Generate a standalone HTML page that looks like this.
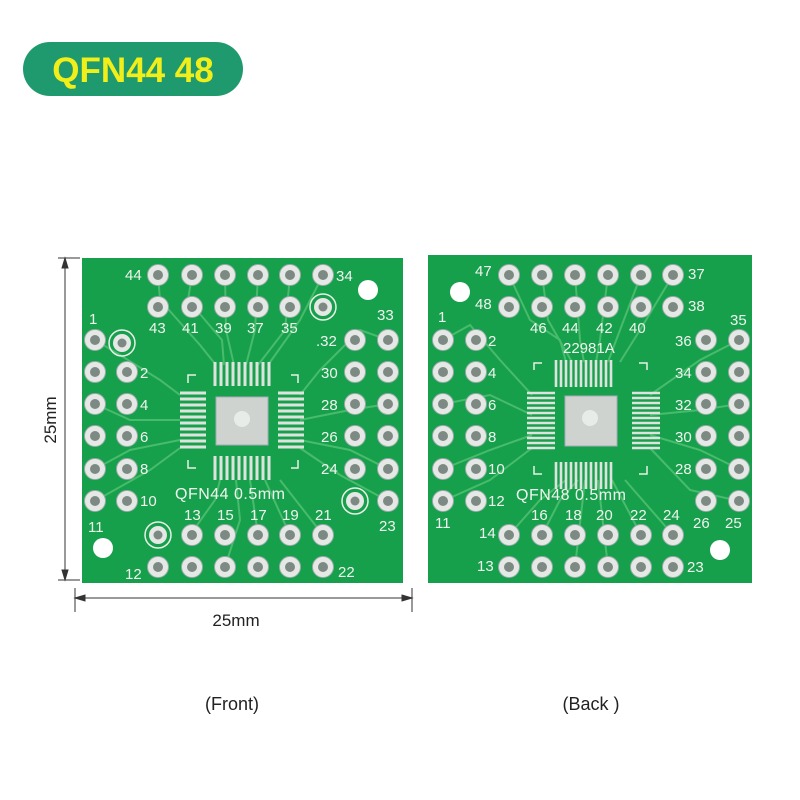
<!DOCTYPE html>
<html><head><meta charset="utf-8"><style>
body{margin:0;background:#fff;}
svg{display:block;}
text{font-family:"Liberation Sans",sans-serif;}
</style></head><body>
<svg width="800" height="800" viewBox="0 0 800 800" xmlns="http://www.w3.org/2000/svg">
<defs>
<g id="pad"><circle r="10.5" fill="#e6e8e6" stroke="#9aa" stroke-width="1"/><circle r="5" fill="#7d8a84"/></g>
<g id="rpad"><circle r="13" fill="none" stroke="#e8f0e8" stroke-width="1.5"/><circle r="9" fill="#e6e8e6"/><circle r="4.5" fill="#7d8a84"/></g>
</defs>
<rect x="23" y="42" width="220" height="54" rx="27" fill="#1f9a6e"/>
<text x="133" y="82" text-anchor="middle" font-size="35" font-weight="bold" fill="#f2ee1a">QFN44 48</text>

<g stroke="#333" stroke-width="1" fill="#333">
<line x1="65" y1="258" x2="65" y2="580"/>
<line x1="58" y1="258" x2="80" y2="258"/><line x1="58" y1="580" x2="80" y2="580"/>
<polygon points="65,258 62,268 68,268"/><polygon points="65,580 62,570 68,570"/>
<line x1="75" y1="598" x2="412" y2="598"/>
<line x1="75" y1="588" x2="75" y2="612"/><line x1="412" y1="588" x2="412" y2="612"/>
<polygon points="75,598 85,595 85,601"/><polygon points="412,598 402,595 402,601"/>
</g>
<text x="56" y="420" font-size="17" fill="#222" text-anchor="middle" transform="rotate(-90 56 420)">25mm</text>
<text x="236" y="626" font-size="17" fill="#222" text-anchor="middle">25mm</text>
<text x="232" y="710" font-size="18" fill="#222" text-anchor="middle">(Front)</text>
<text x="591" y="710" font-size="18" fill="#222" text-anchor="middle">(Back )</text>

<!-- FRONT -->
<rect x="82" y="258" width="321" height="325" fill="#17a04b"/>
<g stroke="#48bb6c" stroke-width="2" fill="none">
<path d="M158,275 L160,300 L200,345 L216,365"/><path d="M192,275 L188,300 L222,340 L224,365"/>
<path d="M225,275 L226,330 L234,365"/><path d="M258,275 L255,330 L246,365"/>
<path d="M290,275 L285,330 L258,365"/><path d="M323,275 L300,320 L268,365"/>
<path d="M95,340 L120,355 L160,380 L180,395"/><path d="M95,404 L130,420 L180,420"/>
<path d="M95,469 L130,450 L180,440"/><path d="M95,501 L150,470 L180,448"/>
<path d="M388,340 L360,330 L320,370 L300,395"/><path d="M388,404 L350,410 L300,420"/>
<path d="M388,469 L350,450 L300,440"/><path d="M388,501 L340,475 L300,448"/>
<path d="M190,535 L215,500 L220,480"/><path d="M225,567 L240,520 L236,480"/>
<path d="M258,535 L250,480"/><path d="M290,535 L265,480"/><path d="M323,535 L280,480"/>
</g>
<circle cx="368" cy="290" r="10" fill="#fff"/>
<circle cx="103" cy="548" r="10" fill="#fff"/>
<g>
<use href="#pad" x="158" y="275"/><use href="#pad" x="192" y="275"/><use href="#pad" x="225" y="275"/><use href="#pad" x="258" y="275"/><use href="#pad" x="290" y="275"/><use href="#pad" x="323" y="275"/>
<use href="#pad" x="158" y="307"/><use href="#pad" x="192" y="307"/><use href="#pad" x="225" y="307"/><use href="#pad" x="258" y="307"/><use href="#pad" x="290" y="307"/><use href="#rpad" x="323" y="307"/>
<use href="#pad" x="95" y="340"/><use href="#pad" x="95" y="372"/><use href="#pad" x="95" y="404"/><use href="#pad" x="95" y="436"/><use href="#pad" x="95" y="469"/><use href="#pad" x="95" y="501"/>
<use href="#rpad" x="122" y="343"/><use href="#pad" x="127" y="372"/><use href="#pad" x="127" y="404"/><use href="#pad" x="127" y="436"/><use href="#pad" x="127" y="469"/><use href="#pad" x="127" y="501"/>
<use href="#pad" x="355" y="340"/><use href="#pad" x="355" y="372"/><use href="#pad" x="355" y="404"/><use href="#pad" x="355" y="436"/><use href="#pad" x="355" y="469"/><use href="#rpad" x="355" y="501"/>
<use href="#pad" x="388" y="340"/><use href="#pad" x="388" y="372"/><use href="#pad" x="388" y="404"/><use href="#pad" x="388" y="436"/><use href="#pad" x="388" y="469"/><use href="#pad" x="388" y="501"/>
<use href="#rpad" x="158" y="535"/><use href="#pad" x="192" y="535"/><use href="#pad" x="225" y="535"/><use href="#pad" x="258" y="535"/><use href="#pad" x="290" y="535"/><use href="#pad" x="323" y="535"/>
<use href="#pad" x="158" y="567"/><use href="#pad" x="192" y="567"/><use href="#pad" x="225" y="567"/><use href="#pad" x="258" y="567"/><use href="#pad" x="290" y="567"/><use href="#pad" x="323" y="567"/>
</g>
<g stroke="#dfe3df" stroke-width="3">
<path d="M215,362v24M221,362v24M227,362v24M233,362v24M239,362v24M245,362v24M251,362v24M257,362v24M263,362v24M269,362v24"/>
<path d="M215,456v24M221,456v24M227,456v24M233,456v24M239,456v24M245,456v24M251,456v24M257,456v24M263,456v24M269,456v24"/>
<path d="M180,393h26M180,399h26M180,405h26M180,411h26M180,417h26M180,423h26M180,429h26M180,435h26M180,441h26M180,447h26"/>
<path d="M278,393h26M278,399h26M278,405h26M278,411h26M278,417h26M278,423h26M278,429h26M278,435h26M278,441h26M278,447h26"/>
</g>
<rect x="216" y="397" width="52" height="48" fill="#cfd3cf" stroke="#aab" stroke-width="1"/>
<circle cx="242" cy="419" r="8" fill="#e8ece8"/>
<g stroke="#e8f0e8" stroke-width="1.5" fill="none">
<path d="M188,383v-8h8"/><path d="M291,375h7v8"/><path d="M188,460v8h8"/><path d="M291,468h7v-8"/>
</g>
<g font-size="15" fill="#f0f4f0">
<text x="125" y="280">44</text><text x="336" y="281">34</text>
<text x="149" y="333">43</text><text x="182" y="333">41</text><text x="215" y="333">39</text><text x="247" y="333">37</text><text x="281" y="333">35</text>
<text x="89" y="324">1</text><text x="377" y="320">33</text>
<text x="140" y="378">2</text><text x="140" y="410">4</text><text x="140" y="442">6</text><text x="140" y="474">8</text><text x="140" y="506">10</text><text x="88" y="532">11</text>
<text x="316" y="346">.32</text><text x="321" y="378">30</text><text x="321" y="410">28</text><text x="321" y="442">26</text><text x="321" y="474">24</text><text x="379" y="531">23</text>
<text x="175" y="499" font-size="16" letter-spacing="0.5">QFN44  0.5mm</text>
<text x="184" y="520">13</text><text x="217" y="520">15</text><text x="250" y="520">17</text><text x="282" y="520">19</text><text x="315" y="520">21</text>
<text x="125" y="579">12</text><text x="338" y="577">22</text>
</g>

<!-- BACK -->
<rect x="428" y="255" width="324" height="328" fill="#17a04b"/>
<g stroke="#48bb6c" stroke-width="2" fill="none">
<path d="M509,275 L530,320 L560,340 L566,362"/><path d="M542,275 L548,320 L572,362"/>
<path d="M575,275 L580,340 L584,362"/><path d="M608,275 L600,340 L596,362"/>
<path d="M641,275 L620,330 L608,362"/><path d="M673,275 L640,330 L620,362"/>
<path d="M443,340 L470,325 L500,360 L532,395"/><path d="M443,404 L490,395 L532,415"/>
<path d="M443,469 L490,450 L532,435"/><path d="M443,501 L490,480 L532,448"/>
<path d="M739,340 L700,360 L650,395"/><path d="M739,404 L700,410 L650,415"/>
<path d="M739,469 L700,450 L650,435"/><path d="M739,501 L690,490 L650,448"/>
<path d="M509,535 L540,500 L566,480"/><path d="M542,535 L560,500 L578,480"/>
<path d="M575,567 L585,480"/><path d="M608,567 L598,480"/><path d="M641,535 L612,480"/><path d="M673,535 L625,480"/>
</g>
<circle cx="460" cy="292" r="10" fill="#fff"/>
<circle cx="720" cy="550" r="10" fill="#fff"/>
<g>
<use href="#pad" x="509" y="275"/><use href="#pad" x="542" y="275"/><use href="#pad" x="575" y="275"/><use href="#pad" x="608" y="275"/><use href="#pad" x="641" y="275"/><use href="#pad" x="673" y="275"/>
<use href="#pad" x="509" y="307"/><use href="#pad" x="542" y="307"/><use href="#pad" x="575" y="307"/><use href="#pad" x="608" y="307"/><use href="#pad" x="641" y="307"/><use href="#pad" x="673" y="307"/>
<use href="#pad" x="443" y="340"/><use href="#pad" x="443" y="372"/><use href="#pad" x="443" y="404"/><use href="#pad" x="443" y="436"/><use href="#pad" x="443" y="469"/><use href="#pad" x="443" y="501"/>
<use href="#pad" x="476" y="340"/><use href="#pad" x="476" y="372"/><use href="#pad" x="476" y="404"/><use href="#pad" x="476" y="436"/><use href="#pad" x="476" y="469"/><use href="#pad" x="476" y="501"/>
<use href="#pad" x="706" y="340"/><use href="#pad" x="706" y="372"/><use href="#pad" x="706" y="404"/><use href="#pad" x="706" y="436"/><use href="#pad" x="706" y="469"/><use href="#pad" x="706" y="501"/>
<use href="#pad" x="739" y="340"/><use href="#pad" x="739" y="372"/><use href="#pad" x="739" y="404"/><use href="#pad" x="739" y="436"/><use href="#pad" x="739" y="469"/><use href="#pad" x="739" y="501"/>
<use href="#pad" x="509" y="535"/><use href="#pad" x="542" y="535"/><use href="#pad" x="575" y="535"/><use href="#pad" x="608" y="535"/><use href="#pad" x="641" y="535"/><use href="#pad" x="673" y="535"/>
<use href="#pad" x="509" y="567"/><use href="#pad" x="542" y="567"/><use href="#pad" x="575" y="567"/><use href="#pad" x="608" y="567"/><use href="#pad" x="641" y="567"/><use href="#pad" x="673" y="567"/>
</g>
<g stroke="#dfe3df" stroke-width="2.6">
<path d="M556,360v27M561,360v27M566,360v27M571,360v27M576,360v27M581,360v27M586,360v27M591,360v27M596,360v27M601,360v27M606,360v27M611,360v27"/>
<path d="M556,462v27M561,462v27M566,462v27M571,462v27M576,462v27M581,462v27M586,462v27M591,462v27M596,462v27M601,462v27M606,462v27M611,462v27"/>
<path d="M527,393h28M527,398h28M527,403h28M527,408h28M527,413h28M527,418h28M527,423h28M527,428h28M527,433h28M527,438h28M527,443h28M527,448h28"/>
<path d="M632,393h28M632,398h28M632,403h28M632,408h28M632,413h28M632,418h28M632,423h28M632,428h28M632,433h28M632,438h28M632,443h28M632,448h28"/>
</g>
<rect x="565" y="396" width="52" height="50" fill="#cfd3cf" stroke="#aab" stroke-width="1"/>
<circle cx="590" cy="418" r="8" fill="#e8ece8"/>
<g stroke="#e8f0e8" stroke-width="1.5" fill="none">
<path d="M534,370v-7h8"/><path d="M639,363h8v7"/><path d="M534,466v8h8"/><path d="M639,474h8v-8"/>
</g>
<g font-size="15" fill="#f0f4f0">
<text x="475" y="276">47</text><text x="688" y="279">37</text>
<text x="475" y="309">48</text><text x="688" y="311">38</text>
<text x="530" y="333">46</text><text x="562" y="333">44</text><text x="596" y="333">42</text><text x="629" y="333">40</text>
<text x="563" y="353">22981A</text>
<text x="438" y="322">1</text><text x="730" y="325">35</text>
<text x="488" y="346">2</text><text x="488" y="378">4</text><text x="488" y="410">6</text><text x="488" y="442">8</text><text x="488" y="474">10</text><text x="488" y="506">12</text>
<text x="435" y="528">11</text>
<text x="675" y="346">36</text><text x="675" y="378">34</text><text x="675" y="410">32</text><text x="675" y="442">30</text><text x="675" y="474">28</text>
<text x="693" y="528">26</text><text x="725" y="528">25</text>
<text x="516" y="500" font-size="16" letter-spacing="0.5">QFN48  0.5mm</text>
<text x="531" y="520">16</text><text x="565" y="520">18</text><text x="596" y="520">20</text><text x="630" y="520">22</text><text x="663" y="520">24</text>
<text x="479" y="538">14</text><text x="477" y="571">13</text><text x="687" y="572">23</text>
</g>
</svg>
</body></html>
